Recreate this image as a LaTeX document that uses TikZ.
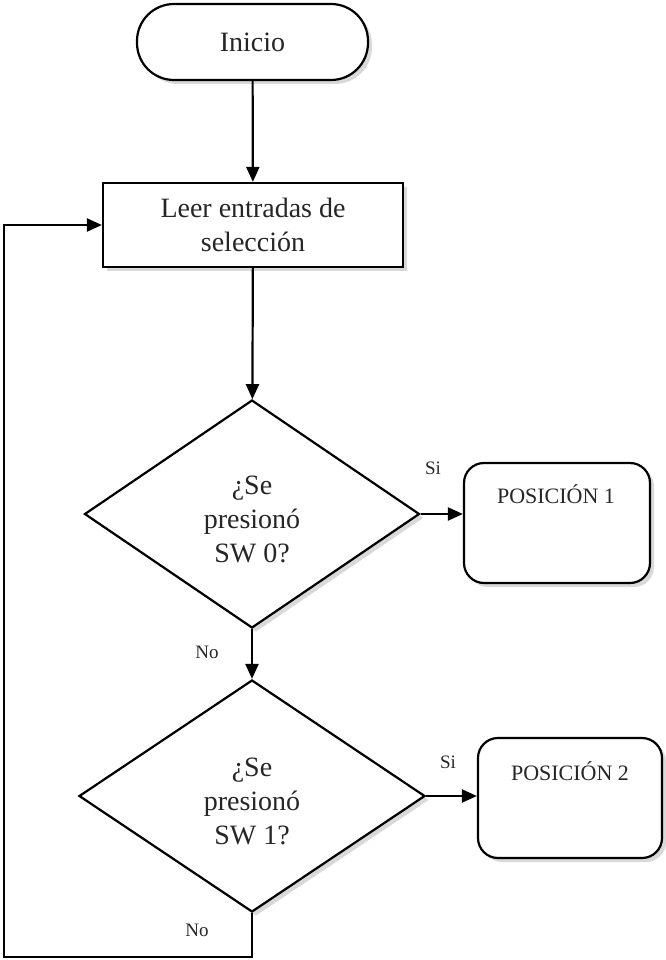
\documentclass[tikz,border=0pt]{standalone}
\usepackage{fontspec}
\setmainfont{Liberation Serif}
\usetikzlibrary{shapes.geometric, shadows, arrows.meta, calc}

\begin{document}
\begin{tikzpicture}[x=1pt, y=-1pt,
    every node/.style={text=black!85, font=\fontsize{28}{34}\selectfont},
    sombra/.style={drop shadow={shadow xshift=4pt, shadow yshift=-4pt, opacity=0.3}},
    caja/.style={draw, line width=2.2pt, fill=white, inner sep=0pt, sombra},
    flecha/.style={line width=2.2pt, -{Triangle[length=15pt, width=13pt]}},
    etiq/.style={font=\fontsize{19}{22}\selectfont}]
  \useasboundingbox (0, 0) rectangle (665, 960);

  \node[caja, rounded corners=37pt, minimum width=231pt, minimum height=76pt] (inicio) at (252.5, 42) {Inicio};
  \node[caja, minimum width=300pt, minimum height=84pt, align=center] (leer) at (253, 225) {Leer entradas de\\selección};
  \node[caja, diamond, minimum width=335pt, minimum height=228pt, align=center] (sw0) at (252, 514) {\rule{0pt}{30pt}¿Se\\presionó\\SW 0?};
  \node[caja, diamond, minimum width=346pt, minimum height=232pt, align=center] (sw1) at (252, 796) {\rule{0pt}{30pt}¿Se\\presionó\\SW 1?};
  \node[caja, rounded corners=20pt, minimum width=186pt, minimum height=120pt] (pos1) at (557, 523) {};
  \node[caja, rounded corners=20pt, minimum width=184pt, minimum height=120pt] (pos2) at (570, 798) {};
  \node[font=\fontsize{22}{26}\selectfont] (pos1txt) at (556, 494) {POSICIÓN 1};
  \node[font=\fontsize{22}{26}\selectfont] (pos2txt) at (570, 771) {POSICIÓN 2};

  \draw[flecha] (inicio) -- (leer);
  \draw[flecha] (leer) -- (sw0);
  \draw[flecha] (sw0.south) -- (sw1.north);
  \draw[flecha] (sw0.east) -- (sw0.east -| pos1.west);
  \draw[flecha] (sw1.east) -- (sw1.east -| pos2.west);
  \coordinate (vuelta) at (4, 957);
  \draw[flecha] (sw1.south) |- (vuelta) |- (leer.west);

  \node[etiq] (si0) at (433, 468) {Si};
  \node[etiq] (no0) at (207, 652) {No};
  \node[etiq] (si1) at (448, 762) {Si};
  \node[etiq] (no1) at (197, 930) {No};
\end{tikzpicture}
\end{document}
